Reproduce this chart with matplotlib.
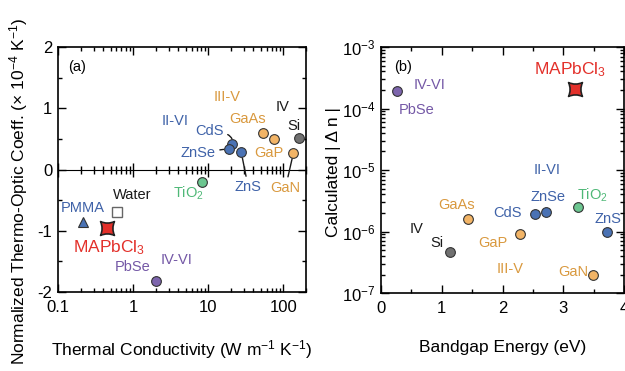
import numpy as np
import matplotlib
matplotlib.use("Agg")
import matplotlib.pyplot as plt
from matplotlib.path import Path
from matplotlib.ticker import LogLocator, NullFormatter, MultipleLocator

plt.rcParams['font.family'] = ['Liberation Sans', 'DejaVu Sans']
plt.rcParams['mathtext.fontset'] = 'custom'
plt.rcParams['mathtext.rm'] = 'Liberation Sans'
plt.rcParams['mathtext.it'] = 'Liberation Sans:italic'
plt.rcParams['mathtext.bf'] = 'Liberation Sans:bold'

# ---------------- data ----------------
# panel (a): thermal conductivity (W m^-1 K^-1) vs normalized thermo-optic coeff (1e-4 K^-1)
a_names = ["Si", "GaAs", "GaP", "GaN", "CdS", "ZnSe", "ZnS", "TiO$_2$", "PbSe"]
a_kappa = [163, 54, 76, 136, 21, 19, 27.5, 8.3, 2.0]
a_dndt = [0.51, 0.59, 0.49, 0.27, 0.41, 0.34, 0.28, -0.20, -1.82]
a_group = ["IV", "III-V", "III-V", "III-V", "II-VI", "II-VI", "II-VI", "TiO2", "IV-VI"]

pmma_kappa, pmma_dndt = [0.215], [-0.86]
water_kappa, water_dndt = [0.61], [-0.70]
mapb_kappa, mapb_dndt = [0.45], [-0.95]

# panel (b): bandgap (eV) vs calculated |dn|
b_names = ["PbSe", "Si", "GaAs", "GaP", "CdS", "ZnSe", "TiO$_2$", "ZnS", "GaN"]
b_gap = [0.26, 1.14, 1.43, 2.29, 2.53, 2.72, 3.24, 3.72, 3.49]
b_dn = [1.93e-4, 4.6e-7, 1.6e-6, 9.1e-7, 1.9e-6, 2.1e-6, 2.5e-6, 9.8e-7, 1.97e-7]
b_group = ["IV-VI", "IV", "III-V", "III-V", "II-VI", "II-VI", "TiO2", "II-VI", "III-V"]
mapb_gap, mapb_dn = [3.19], [2.1e-4]

# ---------------- styles ----------------
fill = {"IV": "#707070", "III-V": "#f2b466", "II-VI": "#4a72b4",
        "TiO2": "#6cc690", "IV-VI": "#7d65ad"}
txt = {"IV": "#1a1a1a", "III-V": "#d9993f", "II-VI": "#3f62a8",
       "TiO2": "#4fb877", "IV-VI": "#7458a6"}
red = "#e3302a"
edge = "#333333"

# concave square marker for MAPbCl3
c = 0.55
star_sq = Path([(-1, -1), (0, -c), (1, -1), (c, 0), (1, 1), (0, c), (-1, 1), (-c, 0), (-1, -1), (-1, -1)],
               [Path.MOVETO, Path.CURVE3, Path.CURVE3, Path.CURVE3, Path.CURVE3,
                Path.CURVE3, Path.CURVE3, Path.CURVE3, Path.CURVE3, Path.CLOSEPOLY])

LFS = 10.5
MFS = 12.5
AFS = 12.5
TFS = 12
fig = plt.figure(figsize=(6.25, 3.71), dpi=100)
ax1 = fig.add_axes([0.0928, 0.2129, 0.3968, 0.6604])
ax2 = fig.add_axes([0.6096, 0.2102, 0.3888, 0.6631])

# ---------------- panel (a) ----------------
ax1.set_xscale("log")
ax1.set_xlim(0.1, 200)
ax1.set_ylim(-2, 2)
for k, d, g in zip(a_kappa, a_dndt, a_group):
    ax1.plot(k, d, "o", ms=7, mfc=fill[g], mec=edge, mew=0.8, zorder=5)
ax1.plot(pmma_kappa, pmma_dndt, "^", ms=7.5, mfc="#4a72b4", mec=edge, mew=0.8, zorder=5)
ax1.plot(water_kappa, water_dndt, "s", ms=6.5, mfc="white", mec="#666666", mew=1.0, zorder=5)
ax1.plot(mapb_kappa, mapb_dndt, marker=star_sq, ms=10, mfc=red, mec="#222222", mew=1.2, ls="none", zorder=6)

# label offsets (pixels) and leader-line styles
a_off = {"Si": (-5, 12), "GaAs": (-16, 14), "GaP": (-6, -14), "GaN": (-8, -35),
         "CdS": (-23, 13), "ZnSe": (-31, -4), "ZnS": (7, -35), "TiO$_2$": (-14, -12),
         "PbSe": (-23, 14)}
a_lead = {"GaN": "arc3,rad=0", "ZnS": "arc3,rad=0", "CdS": "angle3,angleA=0,angleB=80",
          "ZnSe": "arc3,rad=0"}
for n, k, d, g in zip(a_names, a_kappa, a_dndt, a_group):
    kw = {}
    if n in a_lead:
        kw["arrowprops"] = dict(arrowstyle="-", color="#1a1a1a", lw=1.0,
                                connectionstyle=a_lead[n], shrinkA=1, shrinkB=4)
    ax1.annotate(n, (k, d), xytext=a_off[n], textcoords="offset pixels",
                 ha="center", va="center", fontsize=LFS, color=txt[g], **kw)
ax1.annotate("PMMA", (pmma_kappa[0], pmma_dndt[0]), xytext=(0, 14), textcoords="offset pixels",
             ha="center", va="center", fontsize=LFS, color=txt["II-VI"])
ax1.annotate("Water", (water_kappa[0], water_dndt[0]), xytext=(15, 17), textcoords="offset pixels",
             ha="center", va="center", fontsize=LFS, color="#1a1a1a")
ax1.annotate("MAPbCl$_3$", (mapb_kappa[0], mapb_dndt[0]), xytext=(2, -20), textcoords="offset pixels",
             ha="center", va="center", fontsize=MFS, color=red)

ax1.text(0.04, 0.918, "(a)", transform=ax1.transAxes, fontsize=LFS, va="center", ha="left")
ax1.text(0.681, 0.796, "III-V", transform=ax1.transAxes, fontsize=LFS, color=txt["III-V"], ha="center", va="center")
ax1.text(0.907, 0.755, "IV", transform=ax1.transAxes, fontsize=LFS, color=txt["IV"], ha="center", va="center")
ax1.text(0.472, 0.698, "II-VI", transform=ax1.transAxes, fontsize=LFS, color=txt["II-VI"], ha="center", va="center")
ax1.text(0.48, 0.131, "IV-VI", transform=ax1.transAxes, fontsize=LFS, color=txt["IV-VI"], ha="center", va="center")

ax1.set_yticks([-2, -1, 0, 1, 2])
ax1.set_yticklabels(["-2", "-1", "0", "1", "2"])
ax1.yaxis.set_minor_locator(MultipleLocator(0.5))
ax1.set_xticks([0.1, 1, 10, 100])
ax1.set_xticklabels(["0.1", "1", "10", "100"])
ax1.xaxis.set_minor_locator(LogLocator(base=10, subs=np.arange(2, 10)))
ax1.xaxis.set_minor_formatter(NullFormatter())
ax1.tick_params(which="both", direction="in", top=True, right=True, labelsize=TFS, width=1.0)
ax1.tick_params(which="major", length=6)
ax1.tick_params(which="minor", length=3)
ax1.tick_params(axis="x", which="both", pad=6)
ax1.tick_params(axis="y", which="both", pad=4)

# zero line with ticks
sec = ax1.secondary_xaxis(0.5)
sec.set_xticks([0.1, 1, 10, 100])
sec.xaxis.set_minor_locator(LogLocator(base=10, subs=np.arange(2, 10)))
sec.xaxis.set_minor_formatter(NullFormatter())
sec.tick_params(which="both", direction="inout", labelbottom=False, labeltop=False, width=1.0)
sec.tick_params(which="major", length=10)
sec.tick_params(which="minor", length=6)
sec.set_xticklabels([])
sec.spines["bottom"].set_linewidth(1.2)

ax1.set_xlabel("Thermal Conductivity (W m$^{-1}$ K$^{-1}$)", fontsize=AFS)
ax1.xaxis.set_label_coords(0.5, -0.19)
ax1.set_ylabel("Normalized Thermo-Optic Coeff. (× 10$^{-4}$ K$^{-1}$)", fontsize=AFS)
ax1.yaxis.set_label_coords(-0.113, 0.41)

# ---------------- panel (b) ----------------
ax2.set_yscale("log")
ax2.set_xlim(0, 4)
ax2.set_ylim(1e-7, 1e-3)
for e, v, g in zip(b_gap, b_dn, b_group):
    ax2.plot(e, v, "o", ms=7, mfc=fill[g], mec=edge, mew=0.8, zorder=5)
ax2.plot(mapb_gap, mapb_dn, marker=star_sq, ms=10, mfc=red, mec="#222222", mew=1.2, ls="none", zorder=6)

b_off = {"PbSe": (20, -19), "Si": (-13, 9), "GaAs": (-11, 14), "GaP": (-27, -9),
         "CdS": (-27, 1), "ZnSe": (2, 15), "TiO$_2$": (15, 12), "ZnS": (1, 13), "GaN": (-20, 3)}
for n, e, v, g in zip(b_names, b_gap, b_dn, b_group):
    ax2.annotate(n, (e, v), xytext=b_off[n], textcoords="offset pixels",
                 ha="center", va="center", fontsize=LFS, color=txt[g])
ax2.annotate("MAPbCl$_3$", (mapb_gap[0], mapb_dn[0]), xytext=(-5, 19), textcoords="offset pixels",
             ha="center", va="center", fontsize=MFS, color=red)

ax2.text(0.055, 0.919, "(b)", transform=ax2.transAxes, fontsize=LFS, va="center", ha="left")
ax2.text(0.2, 0.846, "IV-VI", transform=ax2.transAxes, fontsize=LFS, color=txt["IV-VI"], ha="center", va="center")
ax2.text(0.683, 0.5, "II-VI", transform=ax2.transAxes, fontsize=LFS, color=txt["II-VI"], ha="center", va="center")
ax2.text(0.148, 0.26, "IV", transform=ax2.transAxes, fontsize=LFS, color=txt["IV"], ha="center", va="center")
ax2.text(0.531, 0.098, "III-V", transform=ax2.transAxes, fontsize=LFS, color=txt["III-V"], ha="center", va="center")

ax2.set_xticks([0, 1, 2, 3, 4])
ax2.xaxis.set_minor_locator(MultipleLocator(0.5))
ax2.yaxis.set_major_locator(LogLocator(base=10, numticks=10))
ax2.yaxis.set_minor_locator(LogLocator(base=10, subs=np.arange(2, 10), numticks=50))
ax2.yaxis.set_minor_formatter(NullFormatter())
ax2.tick_params(which="both", direction="in", top=True, right=True, labelsize=TFS, width=1.0)
ax2.tick_params(which="major", length=6)
ax2.tick_params(which="minor", length=3)
ax2.tick_params(axis="x", which="both", pad=6)
ax2.tick_params(axis="y", which="both", pad=4)

ax2.set_xlabel("Bandgap Energy (eV)", fontsize=AFS)
ax2.xaxis.set_label_coords(0.5, -0.19)
ax2.set_ylabel("Calculated | Δ n |", fontsize=AFS)
ax2.yaxis.set_label_coords(-0.165, 0.49)

for ax in (ax1, ax2):
    for s in ax.spines.values():
        s.set_linewidth(1.2)

fig.savefig("out.png", dpi=100)
